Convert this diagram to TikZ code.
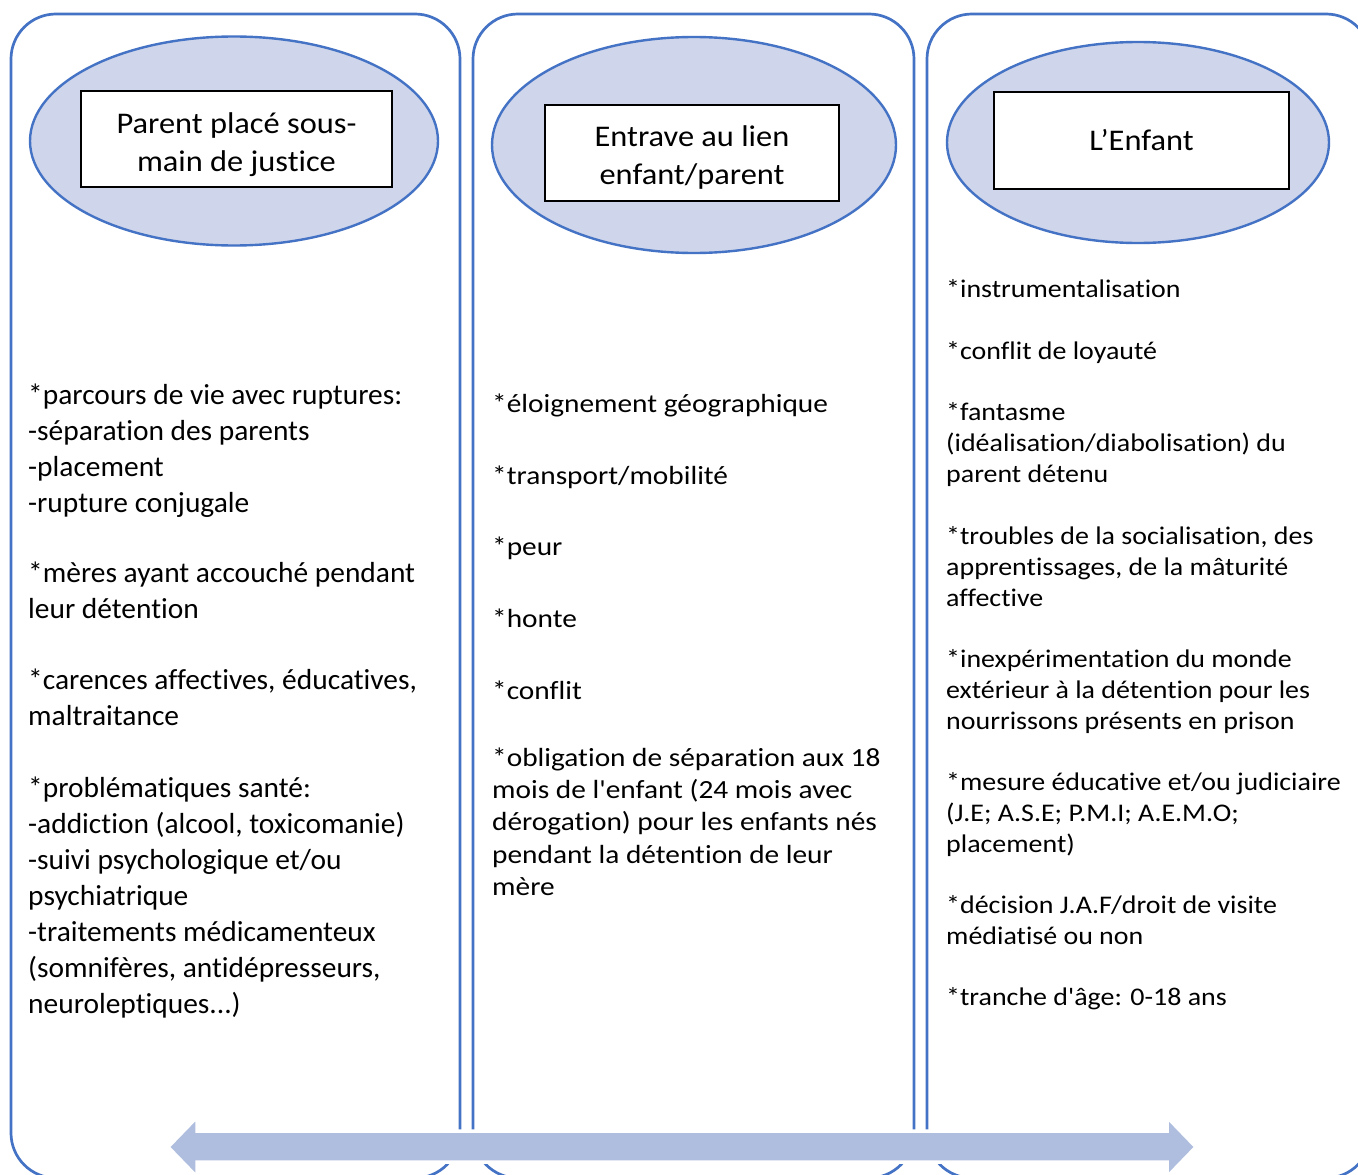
\documentclass[tikz,border=0pt]{standalone}
\usepackage{fontspec}
\setmainfont{Carlito}[Ligatures={TeXOff,CommonOff}]
\newfontfamily\fA{Carlito}[Ligatures={TeXOff,CommonOff}, FakeStretch=1.015]
\newfontfamily\fB{Carlito}[Ligatures={TeXOff,CommonOff}, FakeStretch=1.12]
\newfontfamily\fC{Carlito}[Ligatures={TeXOff,CommonOff}, FakeStretch=1.10]
\newfontfamily\fT{Carlito}[Ligatures={TeXOff,CommonOff}, FakeStretch=1.08]
\usetikzlibrary{shapes.geometric}
\definecolor{bluel}{RGB}{68,114,196}
\definecolor{efill}{RGB}{207,213,234}
\definecolor{afill}{RGB}{175,189,222}
\newcommand\blk[1]{\vtop{\halign{##\hfil\cr#1\crcr}}}
\begin{document}
\begin{tikzpicture}[x=1pt,y=-1pt,
  colbox/.style={draw=bluel, line width=2.7pt, rounded corners=45pt, outer sep=0pt, inner sep=0pt, anchor=north west, minimum height=1164pt},
  oval/.style={ellipse, draw=bluel, fill=efill, line width=2.4pt, inner sep=0pt},
  titlebox/.style={draw=black, fill=white, line width=1.8pt, inner sep=0pt},
  titletext/.style={inner sep=0pt, align=center, font=\fT\fontsize{30}{38}\selectfont},
  txa/.style={anchor=base west, inner sep=0pt, font=\fA\fontsize{29}{36}\selectfont},
  txb/.style={anchor=base west, inner sep=0pt, font=\fB\fontsize{26.2}{32.4}\selectfont},
  txc/.style={anchor=base west, inner sep=0pt, font=\fC\fontsize{25.4}{31}\selectfont},
  bigarrow/.style={fill=afill, draw=white, line width=3.5pt, line join=miter}]
\useasboundingbox (0,0) rectangle (1358,1175);
\clip (0,0) rectangle (1358,1175);
\fill[white] (0,0) rectangle (1358,1175);
% columns
\node[colbox, minimum width=449pt] (c1) at (11,14) {};
\node[colbox, minimum width=441pt] (c2) at (473,14) {};
\node[colbox, minimum width=444pt] (c3) at (927,14) {};
% ovals
\node[oval, minimum width=408pt, minimum height=209pt] (e1) at (234,141) {};
\node[oval, minimum width=404pt, minimum height=216pt] (e2) at (694,145) {};
\node[oval, minimum width=382pt, minimum height=201pt] (e3) at (1138,142.5) {};
% titles
\node[titlebox, minimum width=311pt, minimum height=96pt] (t1) at (236.5,139) {};
\node[titlebox, minimum width=294pt, minimum height=96pt] (t2) at (692,153) {};
\node[titlebox, minimum width=295pt, minimum height=97pt] (t3) at (1141.5,140.5) {};
\node[titletext] (t1x) at ([yshift=-6pt]t1.center) {Parent placé sous-\\main de justice};
\node[titletext] (t2x) at ([yshift=-5pt]t2.center) {Entrave au lien\\enfant/parent};
\node[titletext] (t3x) at (t3.center) {L’Enfant};
% column 1
\node[txa] (a1) at (28,404) {\blk{*parcours de vie avec ruptures:\cr -séparation des parents\cr -placement\cr -rupture conjugale}};
\node[txa] (a2) at (28,582) {\blk{*mères ayant accouché pendant\cr leur détention}};
\node[txa] (a3) at (28,689) {\blk{*carences affectives, éducatives,\cr maltraitance}};
\node[txa] (a4) at (28,797) {\blk{*problématiques santé:\cr -addiction (alcool, toxicomanie)\cr -suivi psychologique et/ou\cr psychiatrique\cr -traitements médicamenteux\cr (somnifères, antidépresseurs,\cr neuroleptiques...)}};
% column 2
\node[txb] (b1) at (492,412) {*éloignement géographique};
\node[txb] (b2) at (492,484) {*transport/mobilité};
\node[txb] (b3) at (492,555) {*peur};
\node[txb] (b4) at (492,627) {*honte};
\node[txb] (b5) at (492,699) {*conflit};
\node[txb] (b6) at (492,766) {\blk{*obligation de séparation aux 18\cr mois de l'enfant (24 mois avec\cr dérogation) pour les enfants nés\cr pendant la détention de leur\cr mère}};
% column 3
\node[txc] (d1) at (946,297) {*instrumentalisation};
\node[txc] (d2) at (946,359) {*conflit de loyauté};
\node[txc] (d3) at (946,420) {\blk{*fantasme\cr (idéalisation/diabolisation) du\cr parent détenu}};
\node[txc] (d4) at (946,544) {\blk{*troubles de la socialisation, des\cr apprentissages, de la mâturité\cr affective}};
\node[txc] (d5) at (946,667) {\blk{*inexpérimentation du monde\cr extérieur à la détention pour les\cr nourrissons présents en prison}};
\node[txc] (d6) at (946,790) {\blk{*mesure éducative et/ou judiciaire\cr (J.E; A.S.E; P.M.I; A.E.M.O;\cr placement)}};
\node[txc] (d7) at (946,913) {\blk{*décision J.A.F/droit de visite\cr médiatisé ou non}};
\node[txc] (d8) at (946,1005) {*tranche d'âge: 0-18 ans};
% double arrow
\draw[bigarrow] (168,1147) -- (197,1117) -- (197,1131) -- (1167,1131) -- (1167,1117) -- (1196,1147) -- (1167,1177) -- (1167,1162) -- (197,1162) -- (197,1177) -- cycle;
\end{tikzpicture}
\end{document}
